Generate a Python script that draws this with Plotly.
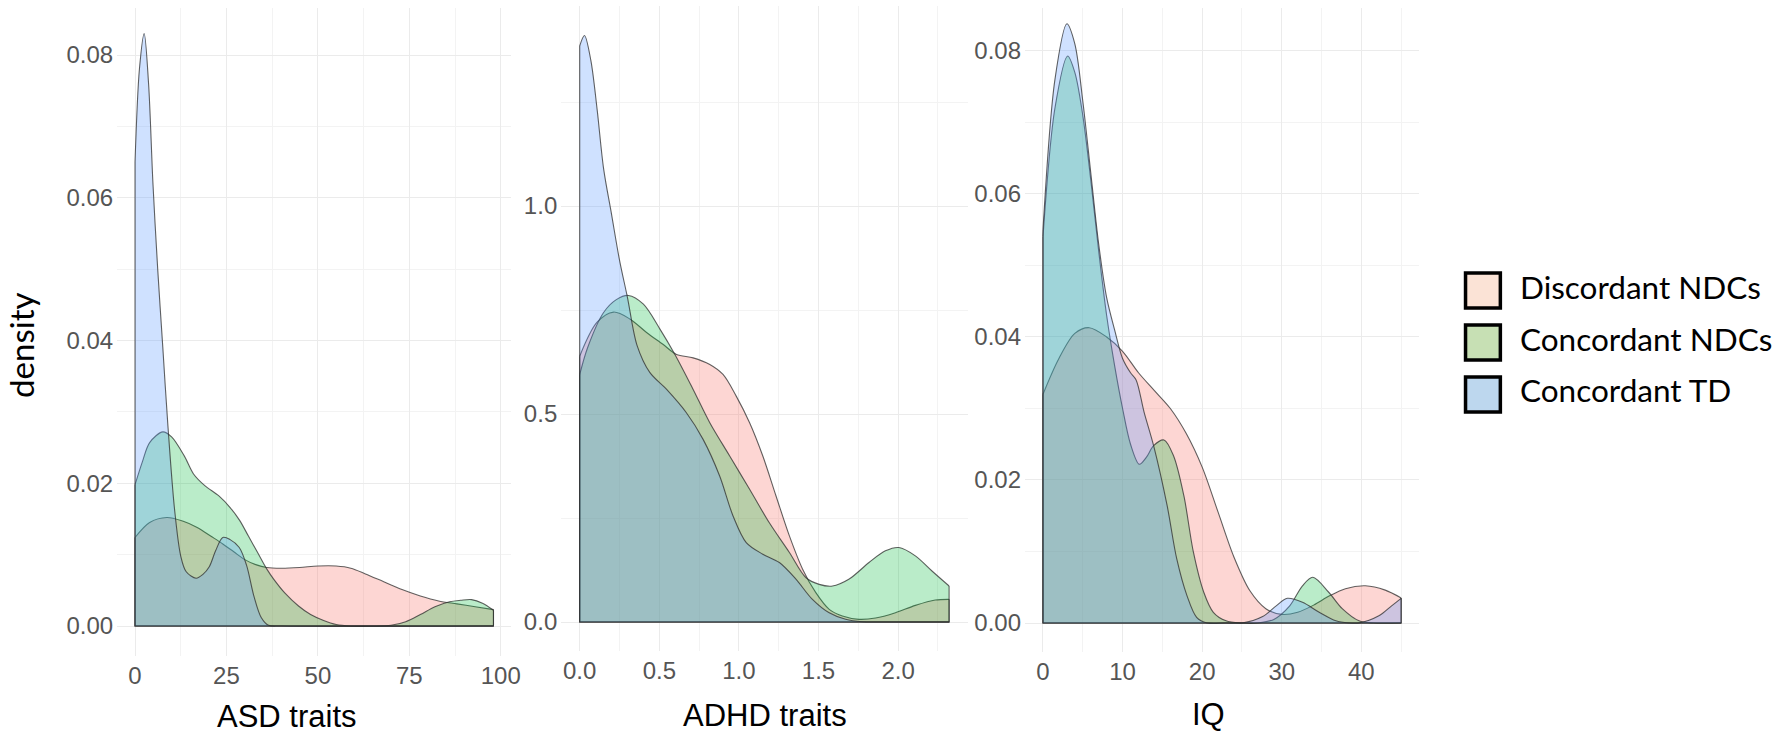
import plotly.graph_objects as go

# ---------------- data ----------------
series_names = ["Discordant NDCs", "Concordant NDCs", "Concordant TD"]
fill_colors = ["rgba(248,118,109,0.30)", "rgba(0,186,56,0.27)", "rgba(97,156,255,0.30)"]
legend_box_colors = ["#FBE3D6", "#C7E0B4", "#BDD7EE"]

# Panel 1: ASD traits
asd_x_disc = [0, 4, 8.7, 13, 17, 21, 24, 27, 30, 33, 36, 40, 45, 50, 55, 59, 63, 68, 73, 78, 83, 88, 93, 98]
asd_y_disc = [0.0124, 0.0145, 0.0152, 0.0147, 0.0138, 0.0125, 0.0115, 0.0104, 0.0093, 0.0086, 0.0082, 0.0081,
              0.0082, 0.0084, 0.0084, 0.0081, 0.0073, 0.0062, 0.0051, 0.0042, 0.0035, 0.0031, 0.0027, 0.0023]
asd_x_conc = [0, 2, 4, 7.6, 10, 13.5, 16, 19, 23, 26, 28.6, 31, 33.4, 36, 38, 41, 44.7, 48, 51.4, 55, 59, 65,
              70, 74, 78, 82, 86, 89, 92, 95, 98]
asd_y_conc = [0.0198, 0.0230, 0.0257, 0.0272, 0.0265, 0.0238, 0.0213, 0.0197, 0.0182, 0.0166, 0.0148, 0.0126,
              0.0104, 0.0080, 0.0065, 0.0046, 0.0028, 0.0016, 0.0008, 0.0002, 0.0, 0.0, 0.0001, 0.0006, 0.0016,
              0.0027, 0.0034, 0.0036, 0.0037, 0.0032, 0.0022]
asd_x_td = [0, 1.2, 2.5, 3.7, 4.9, 6.2, 7.6, 9, 10.8, 12.5, 14, 16.7, 18.5, 20.3, 22, 24, 26, 28.5, 30.5, 32.5,
            34.5, 36.5, 40, 98]
asd_y_td = [0.065, 0.078, 0.083, 0.076, 0.062, 0.050, 0.039, 0.028, 0.0164, 0.0098, 0.0076, 0.0067, 0.0072,
            0.0083, 0.0105, 0.0124, 0.0121, 0.0110, 0.0085, 0.0042, 0.0012, 0.0001, 0.0, 0.0]

# Panel 2: ADHD traits
adhd_x_disc = [0, 0.108, 0.2125, 0.317, 0.42, 0.525, 0.608, 0.7125, 0.817, 0.9, 0.983, 1.067, 1.15, 1.233,
               1.317, 1.4, 1.483, 1.567, 1.65, 1.754, 1.858, 1.983, 2.108, 2.233, 2.32]
adhd_y_disc = [0.639, 0.720, 0.745, 0.728, 0.696, 0.667, 0.643, 0.635, 0.619, 0.595, 0.543, 0.479, 0.399, 0.303,
               0.207, 0.127, 0.0705, 0.0304, 0.0144, 0.0064, 0.0096, 0.0224, 0.040, 0.0529, 0.0545]
adhd_x_conc = [0, 0.05, 0.15, 0.23, 0.306, 0.4, 0.504, 0.598, 0.7125, 0.817, 0.942, 1.067, 1.19, 1.317, 1.42,
               1.504, 1.5875, 1.69, 1.817, 1.92, 2.004, 2.108, 2.2125, 2.32]
adhd_y_conc = [0.595, 0.660, 0.744, 0.775, 0.785, 0.764, 0.704, 0.643, 0.559, 0.479, 0.399, 0.319, 0.239, 0.167,
               0.107, 0.0905, 0.0865, 0.1026, 0.143, 0.171, 0.179, 0.159, 0.1226, 0.0865]
adhd_x_td = [0, 0.03, 0.07, 0.11, 0.15, 0.2, 0.25, 0.3, 0.36, 0.44, 0.546, 0.67, 0.775, 0.879, 0.963, 1.046,
             1.15, 1.254, 1.358, 1.46, 1.567, 1.67, 1.775, 1.9, 2.32]
adhd_y_td = [1.385, 1.410, 1.350, 1.230, 1.090, 0.980, 0.870, 0.780, 0.665, 0.600, 0.559, 0.503, 0.439, 0.351,
             0.255, 0.191, 0.163, 0.143, 0.103, 0.055, 0.022, 0.0064, 0.0005, 0.0, 0.0]

# Panel 3: IQ
iq_x_disc = [0, 2, 4, 5.8, 8, 10, 12, 14, 16, 18, 20, 22, 24, 26, 28, 30, 32, 34, 36, 38, 40.5, 43, 45]
iq_y_disc = [0.032, 0.037, 0.0405, 0.0413, 0.0400, 0.0380, 0.0350, 0.0325, 0.0300, 0.0265, 0.0218, 0.0155,
             0.0092, 0.0045, 0.0020, 0.0012, 0.0015, 0.0025, 0.0038, 0.0048, 0.0052, 0.0046, 0.0035]
iq_x_conc = [0, 1.5, 3.1, 4, 5, 6, 7, 8, 9, 10, 11, 12.1, 13, 13.9, 15.2, 16.4, 17.7, 18.9, 20.2, 21.4, 23, 25,
             27, 29, 31, 32.6, 33.9, 35.9, 37.6, 39.7, 41.5, 45]
iq_y_conc = [0.054, 0.072, 0.0793, 0.077, 0.071, 0.062, 0.052, 0.043, 0.036, 0.030, 0.025, 0.0222, 0.0232,
             0.0248, 0.0256, 0.0234, 0.0178, 0.0099, 0.0043, 0.0015, 0.0003, 0.0, 0.0, 0.0005, 0.0024, 0.0052,
             0.0064, 0.0043, 0.0020, 0.0003, 0.0, 0.0]
iq_x_td = [0, 1.5, 3.0, 4, 5, 6, 7, 8, 9, 10, 11, 11.7, 12.7, 13.9, 15.6, 16.8, 18.1, 19.3, 20.6, 23, 25, 27.6,
           29.3, 30.7, 32.6, 34.7, 36.8, 38.4, 39.7, 42.2, 43.8, 45]
iq_y_td = [0.055, 0.076, 0.0838, 0.081, 0.073, 0.063, 0.053, 0.0455, 0.041, 0.037, 0.035, 0.034, 0.0295,
           0.0248, 0.0164, 0.009, 0.0038, 0.0008, 0.0, 0.0, 0.0, 0.0009, 0.0024, 0.00345, 0.0029, 0.0015,
           0.0003, 0.0, 0.0, 0.001, 0.0024, 0.00345]

# Axis labels / ticks
x_titles = ["ASD traits", "ADHD traits", "IQ"]
y_title = "density"
asd_xticks = [0, 25, 50, 75, 100]
asd_xticktext = ["0", "25", "50", "75", "100"]
adhd_xticks = [0, 0.5, 1.0, 1.5, 2.0]
adhd_xticktext = ["0.0", "0.5", "1.0", "1.5", "2.0"]
iq_xticks = [0, 10, 20, 30, 40]
iq_xticktext = ["0", "10", "20", "30", "40"]
asd_yticks = [0, 0.02, 0.04, 0.06, 0.08]
asd_yticktext = ["0.00", "0.02", "0.04", "0.06", "0.08"]
adhd_yticks = [0, 0.5, 1.0]
adhd_yticktext = ["0.0", "0.5", "1.0"]
iq_yticks = [0, 0.02, 0.04, 0.06, 0.08]
iq_yticktext = ["0.00", "0.02", "0.04", "0.06", "0.08"]

# ---------------- layout geometry (pixels) ----------------
W, H = 1775, 736


def fx(px):
    return px / W


def fy(py):
    return 1 - py / H


panels = [
    dict(xpx=(117.7, 514.0), ypx=(8, 656), xr=[-4.9, 102.9], yr=[-0.004203, 0.08659],
         xt=(asd_xticks, asd_xticktext), yt=(asd_yticks, asd_yticktext), xminor=12.5, yminor=0.01,
         series=[(asd_x_disc, asd_y_disc), (asd_x_conc, asd_y_conc), (asd_x_td, asd_y_td)],
         title_px=(288, 716)),
    dict(xpx=(564.1, 972.5), ypx=(6, 651), xr=[-0.116, 2.436], yr=[-0.0697, 1.4808],
         xt=(adhd_xticks, adhd_xticktext), yt=(adhd_yticks, adhd_yticktext), xminor=0.25, yminor=0.25,
         series=[(adhd_x_disc, adhd_y_disc), (adhd_x_conc, adhd_y_conc), (adhd_x_td, adhd_y_td)],
         title_px=(769, 715)),
    dict(xpx=(1030.3, 1426.3), ypx=(8, 652), xr=[-2.25, 47.25], yr=[-0.004056, 0.08601],
         xt=(iq_xticks, iq_xticktext), yt=(iq_yticks, iq_yticktext), xminor=5, yminor=0.01,
         series=[(iq_x_disc, iq_y_disc), (iq_x_conc, iq_y_conc), (iq_x_td, iq_y_td)],
         title_px=(1215, 714)),
]

tick_font = dict(family="Liberation Sans, Arial, sans-serif", size=24, color="#555555")
line_col = "rgba(45,45,45,0.75)"

fig = go.Figure()
layout_axes = {}

for i, p in enumerate(panels, start=1):
    xa = "x" if i == 1 else f"x{i}"
    ya = "y" if i == 1 else f"y{i}"
    for (xs, ys), fc in zip(p["series"], fill_colors):
        fig.add_trace(go.Scatter(
            x=xs, y=ys, xaxis=xa, yaxis=ya, mode="lines", fill="tozeroy", fillcolor=fc,
            line=dict(color=line_col, width=1.1, shape="spline", smoothing=0.9),
            hoverinfo="skip", showlegend=False))
        # left / right vertical edges and baseline of each density polygon
        fig.add_trace(go.Scatter(
            x=[xs[0], xs[0], xs[-1], xs[-1]], y=[ys[0], 0, 0, ys[-1]], xaxis=xa, yaxis=ya,
            mode="lines", line=dict(color=line_col, width=1.1), hoverinfo="skip", showlegend=False))

    grid = dict(showgrid=True, gridcolor="#EBEBEB", gridwidth=1, zeroline=False, showline=False,
                ticks="", tickfont=tick_font)
    xkey = "xaxis" if i == 1 else f"xaxis{i}"
    ykey = "yaxis" if i == 1 else f"yaxis{i}"
    layout_axes[xkey] = dict(
        domain=[fx(p["xpx"][0]), fx(p["xpx"][1])], range=p["xr"], anchor=ya,
        tickmode="array", tickvals=p["xt"][0], ticktext=p["xt"][1], ticklabelstandoff=3,
        minor=dict(dtick=p["xminor"], tick0=0, showgrid=True, gridcolor="#F3F3F3", gridwidth=1),
        **grid)
    layout_axes[ykey] = dict(
        domain=[fy(p["ypx"][1]), fy(p["ypx"][0])], range=p["yr"], anchor=xa,
        tickmode="array", tickvals=p["yt"][0], ticktext=p["yt"][1], ticklabelstandoff=3,
        minor=dict(dtick=p["yminor"], tick0=0, showgrid=True, gridcolor="#F3F3F3", gridwidth=1),
        **grid)

annotations = []
for p, t in zip(panels, x_titles):
    annotations.append(dict(
        text=t, x=fx(p["title_px"][0]), y=fy(p["title_px"][1]), xref="paper", yref="paper",
        xanchor="center", yanchor="middle", showarrow=False,
        font=dict(family="Liberation Sans, Arial, sans-serif", size=31, color="#000000")))
annotations.append(dict(
    text=y_title, x=fx(21), y=fy(345), xref="paper", yref="paper", textangle=-90,
    xanchor="center", yanchor="middle", showarrow=False,
    font=dict(family="Lato, sans-serif", size=33, color="#000000")))

# custom legend (boxes + labels)
shapes = []
box_tops = [273, 325, 377]
text_centers = [287, 339, 390]
for name, col, top, tc in zip(series_names, legend_box_colors, box_tops, text_centers):
    shapes.append(dict(type="rect", xref="paper", yref="paper",
                       x0=fx(1473), x1=fx(1508), y0=fy(top + 35), y1=fy(top),
                       fillcolor=col, line=dict(color="#000000", width=3.5)))
    annotations.append(dict(
        text=name, x=fx(1526), y=fy(tc), xref="paper", yref="paper",
        xanchor="left", yanchor="middle", showarrow=False,
        font=dict(family="Lato, sans-serif", size=31.5, color="#000000")))

fig.update_layout(
    width=W, height=H, margin=dict(l=0, r=0, t=0, b=0),
    paper_bgcolor="white", plot_bgcolor="white",
    showlegend=False, annotations=annotations, shapes=shapes,
    **layout_axes)

fig.write_html("out.html", config={"displayModeBar": False},
               post_script="document.body.style.margin='0px';document.body.style.overflow='hidden';")
